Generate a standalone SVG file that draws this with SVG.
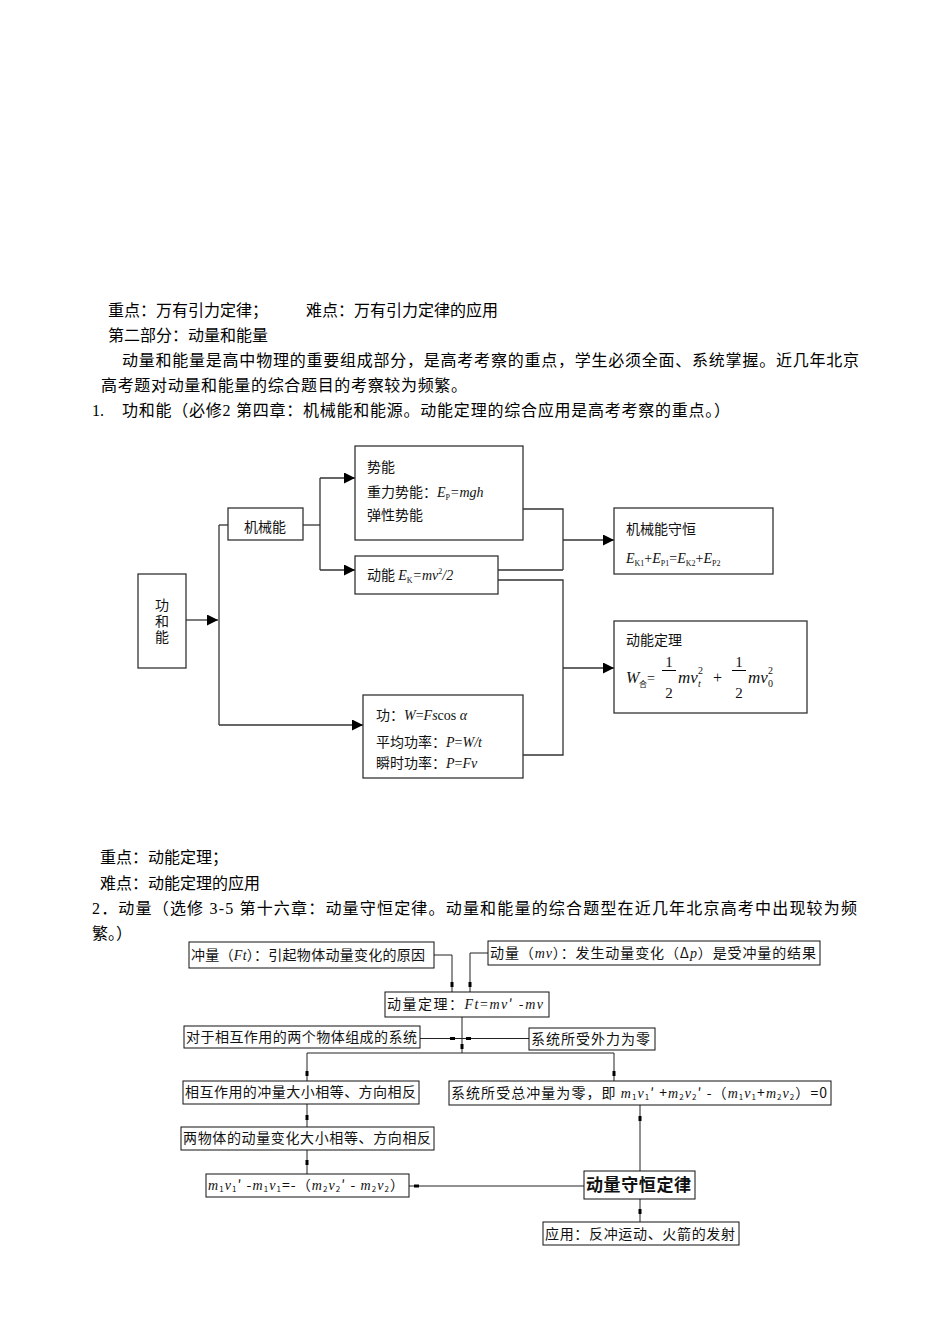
<svg xmlns="http://www.w3.org/2000/svg" width="950" height="1344" viewBox="0 0 950 1344">
<defs>
<style>
.body{font-family:"Liberation Serif","Noto Sans CJK SC",serif;font-size:16px;fill:#000}
.d1{font-family:"Noto Sans CJK SC",sans-serif;font-size:14px;fill:#111}
.d2{font-family:"Noto Sans CJK SC",sans-serif;font-size:14px;fill:#111}
.m{font-family:"Liberation Serif",serif;font-style:italic}
.n{font-family:"Liberation Serif",serif;font-style:normal}
.box{fill:#fff;stroke:#333;stroke-width:1.3}
.box2{fill:#fff;stroke:#111;stroke-width:1}
.ln{fill:none;stroke:#333;stroke-width:1.3}
.ln2{fill:none;stroke:#222;stroke-width:1}
.dot{fill:#000}
.vt{writing-mode:vertical-rl;letter-spacing:2px}
</style>
<marker id="arr" markerUnits="userSpaceOnUse" markerWidth="12" markerHeight="11" refX="11" refY="5.5" orient="auto">
<path d="M0,0 L11,5.5 L0,11 Z" fill="#000"/>
</marker>
</defs>
<rect width="950" height="1344" fill="#fff"/>

<g id="intro-text" class="body">
<text x="108" y="316">重点：万有引力定律；</text>
<text x="306" y="316">难点：万有引力定律的应用</text>
<text x="108" y="341">第二部分：动量和能量</text>
<text x="122" y="366" textLength="737" lengthAdjust="spacing">动量和能量是高中物理的重要组成部分，是高考考察的重点，学生必须全面、系统掌握。近几年北京</text>
<text x="101" y="391" textLength="366" lengthAdjust="spacing">高考题对动量和能量的综合题目的考察较为频繁。</text>
<text x="92" y="416">1.</text>
<text x="122" y="416" textLength="608" lengthAdjust="spacing">功和能（必修2 第四章：机械能和能源。动能定理的综合应用是高考考察的重点。）</text>
</g>

<!-- Diagram 1 connectors -->
<g id="connectors-1">
<path class="ln" d="M186,620 H218" marker-end="url(#arr)"/>
<path class="ln" d="M219,525 V725"/>
<path class="ln" d="M219,525 H228"/>
<path class="ln" d="M219,725 H363" marker-end="url(#arr)"/>
<path class="ln" d="M303,525 H320"/>
<path class="ln" d="M320,478 V570"/>
<path class="ln" d="M320,478 H355" marker-end="url(#arr)"/>
<path class="ln" d="M320,570 H355" marker-end="url(#arr)"/>
<path class="ln" d="M523,509 H563 V570 M497,570 H563"/>
<path class="ln" d="M563,540 H614" marker-end="url(#arr)"/>
<path class="ln" d="M497,580 H563 V755 H523"/>
<path class="ln" d="M563,668 H614" marker-end="url(#arr)"/>
</g>

<g id="n-gonghe" class="d1">
<rect class="box" x="138" y="574" width="48" height="94"/>
<text class="vt" x="162" y="598" font-size="14">功和能</text>
</g>

<g id="n-jixieneng" class="d1">
<rect class="box" x="228" y="508" width="75" height="32"/>
<text x="265" y="532" text-anchor="middle">机械能</text>
</g>

<g id="n-shineng" class="d1">
<rect class="box" x="355" y="446" width="168" height="94"/>
<text x="367" y="472">势能</text>
<text x="367" y="497">重力势能：<tspan class="m">E</tspan><tspan class="n" font-size="8" dy="3">P</tspan><tspan class="m" dy="-3">=mgh</tspan></text>
<text x="367" y="520">弹性势能</text>
</g>

<g id="n-dongneng" class="d1">
<rect class="box" x="355" y="556" width="143" height="38"/>
<text x="367" y="580">动能 <tspan class="m">E</tspan><tspan class="n" font-size="8" dy="3">K</tspan><tspan class="m" dy="-3">=mv</tspan><tspan class="n" font-size="8" dy="-6">2</tspan><tspan class="m" dy="6">/2</tspan></text>
</g>

<g id="n-shouheng" class="d1">
<rect class="box" x="614" y="508" width="159" height="66"/>
<text x="626" y="534">机械能守恒</text>
<text x="626" y="563" font-size="14"><tspan class="m">E</tspan><tspan class="n" font-size="8" dy="3">K1</tspan><tspan class="n" dy="-3">+</tspan><tspan class="m">E</tspan><tspan class="n" font-size="8" dy="3">P1</tspan><tspan class="n" dy="-3">=</tspan><tspan class="m">E</tspan><tspan class="n" font-size="8" dy="3">K2</tspan><tspan class="n" dy="-3">+</tspan><tspan class="m">E</tspan><tspan class="n" font-size="8" dy="3">P2</tspan></text>
</g>

<g id="n-dongnengdingli" class="d1">
<rect class="box" x="614" y="621" width="193" height="92"/>
<text x="626" y="645">动能定理</text>
<text x="626" y="683" class="m" font-size="16">W</text>
<text x="639" y="687" font-size="8">合</text>
<text x="647" y="683" class="n" font-size="14">=</text>
<text x="669" y="667" class="n" font-size="15" text-anchor="middle">1</text>
<line x1="662" y1="670.5" x2="676" y2="670.5" stroke="#000" stroke-width="1"/>
<text x="669" y="698" class="n" font-size="15" text-anchor="middle">2</text>
<text x="678" y="683" class="m" font-size="17">mv</text>
<text x="698" y="674" class="n" font-size="10">2</text>
<text x="698" y="687" class="m" font-size="10">t</text>
<text x="713" y="683" class="n" font-size="16">+</text>
<text x="739" y="667" class="n" font-size="15" text-anchor="middle">1</text>
<line x1="732" y1="670.5" x2="746" y2="670.5" stroke="#000" stroke-width="1"/>
<text x="739" y="698" class="n" font-size="15" text-anchor="middle">2</text>
<text x="748" y="683" class="m" font-size="17">mv</text>
<text x="768" y="674" class="n" font-size="10">2</text>
<text x="768" y="687" class="n" font-size="10">0</text>
</g>

<g id="n-gong" class="d1">
<rect class="box" x="363" y="695" width="160" height="83"/>
<text x="376" y="720">功：<tspan class="m">W</tspan><tspan class="n">=</tspan><tspan class="m">F</tspan><tspan class="m">s</tspan><tspan class="n">cos </tspan><tspan class="m">α</tspan></text>
<text x="376" y="747">平均功率：<tspan class="m">P</tspan><tspan class="n">=</tspan><tspan class="m">W/t</tspan></text>
<text x="376" y="768">瞬时功率：<tspan class="m">P</tspan><tspan class="n">=</tspan><tspan class="m">Fv</tspan></text>
</g>

<g id="mid-text" class="body">
<text x="100" y="863">重点：动能定理；</text>
<text x="100" y="889">难点：动能定理的应用</text>
<text x="92" y="914" textLength="765" lengthAdjust="spacing">2．动量（选修 3-5 第十六章：动量守恒定律。动量和能量的综合题型在近几年北京高考中出现较为频</text>
<text x="92" y="939">繁。）</text>
</g>

<!-- Diagram 2 connectors -->
<g id="connectors-2">
<path class="ln2" d="M434,955 H452 V992"/>
<path class="ln2" d="M488,953 H470 V992"/>
<rect class="dot" x="450.5" y="982" width="3" height="5"/>
<rect class="dot" x="468.5" y="982" width="3" height="5"/>
<path class="ln2" d="M462,1017 V1053"/>
<rect class="dot" x="460.5" y="1044" width="3" height="5"/>
<path class="ln2" d="M420,1038.5 H529"/>
<rect class="dot" x="450" y="1037" width="5" height="3"/>
<rect class="dot" x="466" y="1037" width="5" height="3"/>
<path class="ln2" d="M307,1081 V1053 H614 V1081"/>
<rect class="dot" x="305.5" y="1071" width="3" height="5"/>
<rect class="dot" x="612.5" y="1071" width="3" height="5"/>
<path class="ln2" d="M307,1104 V1127"/>
<rect class="dot" x="305.5" y="1115" width="3" height="5"/>
<path class="ln2" d="M307,1150 V1174"/>
<rect class="dot" x="305.5" y="1160" width="3" height="5"/>
<path class="ln2" d="M409,1186 H584"/>
<rect class="dot" x="414" y="1184.5" width="5" height="3"/>
<path class="ln2" d="M640,1105 V1171"/>
<rect class="dot" x="638.5" y="1116" width="3" height="5"/>
<path class="ln2" d="M640,1199 V1222"/>
<rect class="dot" x="638.5" y="1209" width="3" height="5"/>
</g>

<g id="n-chongliang" class="d2">
<rect class="box2" x="189" y="942" width="245" height="26"/>
<text x="191" y="960" textLength="234" lengthAdjust="spacing">冲量（<tspan class="m">Ft</tspan>）：引起物体动量变化的原因</text>
</g>

<g id="n-dongliang" class="d2">
<rect class="box2" x="488" y="941" width="332" height="24"/>
<text x="490" y="958" textLength="326" lengthAdjust="spacing">动量（<tspan class="m">mv</tspan>）：发生动量变化（Δ<tspan class="m">p</tspan>）是受冲量的结果</text>
</g>

<g id="n-dongliangdingli" class="d2">
<rect class="box2" x="385" y="992" width="164" height="25"/>
<text x="387" y="1009" textLength="156" lengthAdjust="spacing">动量定理：<tspan class="m">Ft</tspan><tspan class="n">=</tspan><tspan class="m">mv</tspan>′ -<tspan class="m">mv</tspan></text>
</g>

<g id="n-duiyu" class="d2">
<rect class="box2" x="184" y="1026" width="236" height="22"/>
<text x="186" y="1042" textLength="231" lengthAdjust="spacing">对于相互作用的两个物体组成的系统</text>
</g>

<g id="n-waili" class="d2">
<rect class="box2" x="529" y="1028" width="126" height="22"/>
<text x="531" y="1044" textLength="119" lengthAdjust="spacing">系统所受外力为零</text>
</g>

<g id="n-xianghu" class="d2">
<rect class="box2" x="183" y="1081" width="236" height="23"/>
<text x="185" y="1097" textLength="231" lengthAdjust="spacing">相互作用的冲量大小相等、方向相反</text>
</g>

<g id="n-zongchongliang" class="d2">
<rect class="box2" x="449" y="1081" width="382" height="24"/>
<text x="451" y="1098" textLength="376" lengthAdjust="spacing">系统所受总冲量为零，即 <tspan class="m">m</tspan><tspan font-size="8" dy="2">1</tspan><tspan class="m" dy="-2">v</tspan><tspan font-size="8" dy="2">1</tspan><tspan dy="-2">′ +</tspan><tspan class="m">m</tspan><tspan font-size="8" dy="2">2</tspan><tspan class="m" dy="-2">v</tspan><tspan font-size="8" dy="2">2</tspan><tspan dy="-2">′ -（</tspan><tspan class="m">m</tspan><tspan font-size="8" dy="2">1</tspan><tspan class="m" dy="-2">v</tspan><tspan font-size="8" dy="2">1</tspan><tspan dy="-2">+</tspan><tspan class="m">m</tspan><tspan font-size="8" dy="2">2</tspan><tspan class="m" dy="-2">v</tspan><tspan font-size="8" dy="2">2</tspan><tspan dy="-2">）=0</tspan></text>
</g>

<g id="n-liangwuti" class="d2">
<rect class="box2" x="181" y="1127" width="253" height="23"/>
<text x="183" y="1143" textLength="248" lengthAdjust="spacing">两物体的动量变化大小相等、方向相反</text>
</g>

<g id="n-gongshi" class="d2">
<rect class="box2" x="206" y="1174" width="203" height="23"/>
<text x="208" y="1190" textLength="196" lengthAdjust="spacing"><tspan class="m">m</tspan><tspan font-size="8" dy="2">1</tspan><tspan class="m" dy="-2">v</tspan><tspan font-size="8" dy="2">1</tspan><tspan dy="-2">′ -</tspan><tspan class="m">m</tspan><tspan font-size="8" dy="2">1</tspan><tspan class="m" dy="-2">v</tspan><tspan font-size="8" dy="2">1</tspan><tspan dy="-2">=-（</tspan><tspan class="m">m</tspan><tspan font-size="8" dy="2">2</tspan><tspan class="m" dy="-2">v</tspan><tspan font-size="8" dy="2">2</tspan><tspan dy="-2">′ - </tspan><tspan class="m">m</tspan><tspan font-size="8" dy="2">2</tspan><tspan class="m" dy="-2">v</tspan><tspan font-size="8" dy="2">2</tspan><tspan dy="-2">）</tspan></text>
</g>

<g id="n-shouhengdinglv" class="d2">
<rect class="box2" x="584" y="1171" width="111" height="28"/>
<text x="586" y="1191" font-size="17" font-weight="bold" textLength="105" lengthAdjust="spacing">动量守恒定律</text>
</g>

<g id="n-yingyong" class="d2">
<rect class="box2" x="543" y="1222" width="196" height="23"/>
<text x="545" y="1239" textLength="190" lengthAdjust="spacing">应用：反冲运动、火箭的发射</text>
</g>
</svg>
